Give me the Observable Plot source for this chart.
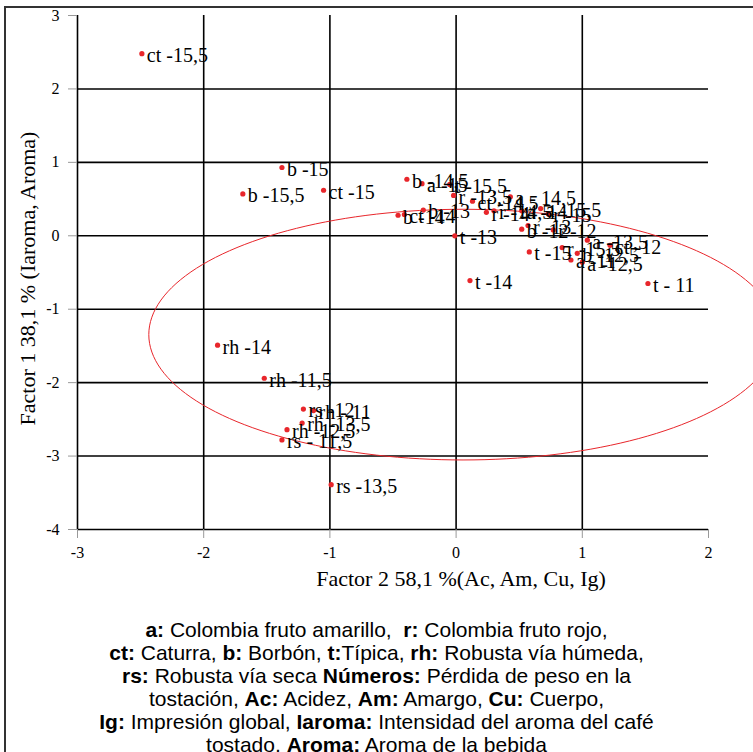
<!DOCTYPE html>
<html>
<head>
<meta charset="utf-8">
<script src="https://cdn.jsdelivr.net/npm/d3@7"></script>
<script src="https://cdn.jsdelivr.net/npm/@observablehq/plot@0.6"></script>
<style>
  html, body { margin: 0; padding: 0; background: #fff; overflow: hidden; width: 753px; height: 752px; }
  #frame { position: absolute; left: 4px; top: 6px; width: 820px; height: 820px; border: 2px solid #333; box-sizing: border-box; }
  #chart { position: absolute; left: 0; top: 0; }
  #caption { position: absolute; left: 0; top: 618px; width: 753px; text-align: center;
    font-family: "Liberation Sans", Arial, sans-serif; font-size: 21px; line-height: 23px; color: #000; }
  #caption b { font-weight: bold; }
</style>
</head>
<body>
<div id="frame"></div>
<div id="chart"></div>
<div id="caption">
  <b>a:</b> Colombia fruto amarillo,&nbsp; <b>r:</b> Colombia fruto rojo,<br>
  <b>ct:</b> Caturra, <b>b:</b> Borbón, <b>t:</b>Típica, <b>rh:</b> Robusta vía húmeda,<br>
  <b>rs:</b> Robusta vía seca <b>Números:</b> Pérdida de peso en la<br>
  tostación, <b>Ac:</b> Acidez, <b>Am:</b> Amargo, <b>Cu:</b> Cuerpo,<br>
  <b>Ig:</b> Impresión global, <b>Iaroma:</b> Intensidad del aroma del café<br>
  tostado, <b>Aroma:</b> Aroma de la bebida
</div>
<script>
// ---- data ----
const labels = [
  "ct -15,5", "b -15", "b -15,5", "ct -15",
  "rh -14", "rh -11,5", "rs -12", "rh - 11", "rh -13,5", "rh -12,5", "rs - 11,5", "rs -13,5",
  "b -14,5", "a -15", "t -15,5", "r -13,5", "ct -14,5", "a - 14,5", "b -14", "ct -14", "b -13",
  "r -14", "r -14,5", "a -14", "b -12", "r -13", "a -15,5", "r -15", "r -12",
  "t -13", "t -14", "t -15", "r -15,5", "a -13,5", "ct -12", "b -12,5", "a -11", "a -12,5", "t - 11"
];
const factor2 = [
  -2.49, -1.38, -1.69, -1.05,
  -1.89, -1.52, -1.21, -1.13, -1.22, -1.34, -1.38, -0.99,
  -0.39, -0.27, -0.05, -0.02, 0.13, 0.43, -0.46, -0.41, -0.26,
  0.24, 0.30, 0.52, 0.52, 0.57, 0.67, 0.73, 0.77,
  -0.01, 0.11, 0.58, 0.84, 1.04, 1.22, 0.96, 0.91, 1.00, 1.52
];
const factor1 = [
  2.48, 0.93, 0.57, 0.62,
  -1.49, -1.94, -2.36, -2.38, -2.55, -2.64, -2.78, -3.39,
  0.77, 0.71, 0.70, 0.55, 0.47, 0.53, 0.28, 0.29, 0.35,
  0.32, 0.34, 0.34, 0.09, 0.14, 0.37, 0.30, 0.08,
  0.00, -0.61, -0.22, -0.16, -0.06, -0.13, -0.24, -0.33, -0.36, -0.65
];
const xTicks = [-3, -2, -1, 0, 1, 2];
const yTicks = [-4, -3, -2, -1, 0, 1, 2, 3];
const xGrid = [-3, -2, -1, 0, 1];
const yGrid = [-4, -3, -2, -1, 0, 1, 2];
const ellipseCenter = [0.055, -1.346];
const ellipseRadii = [2.49, 1.707];
const xTitle = "Factor 2 58,1 %(Ac, Am, Cu, Ig)";
const yTitle = "Factor 1 38,1 % (Iaroma, Aroma)";

const points = labels.map((l, i) => ({label: l, x: factor2[i], y: factor1[i]}));
const ellipse = d3.range(0, 361, 2).map(a => {
  const t = a * Math.PI / 180;
  return {x: ellipseCenter[0] + ellipseRadii[0] * Math.cos(t), y: ellipseCenter[1] + ellipseRadii[1] * Math.sin(t)};
});

const serif = "'Liberation Serif', 'Times New Roman', serif";
const chart = Plot.plot({
  width: 753, height: 600,
  marginLeft: 77, marginRight: 45, marginTop: 15, marginBottom: 71,
  x: {domain: [-3, 2]},
  y: {domain: [-4, 3]},
  style: {fontFamily: serif, fontSize: "16px", background: "transparent", color: "#000"},
  marks: [
    Plot.ruleX(xGrid, {x: d => d, y1: -4, y2: 3, stroke: "#000", strokeWidth: 1.6}),
    Plot.ruleY(yGrid, {y: d => d, x1: -3, x2: 2, stroke: "#000", strokeWidth: 1.6}),
    Plot.axisX(xTicks, {tickSize: 9, stroke: "#999", fill: "#000", tickPadding: 8, fontSize: 16, fontFamily: serif, label: null, tickFormat: d => String(d)}),
    Plot.axisY(yTicks, {tickSize: 9, stroke: "#999", fill: "#000", tickPadding: 9, fontSize: 16, fontFamily: serif, label: null, tickFormat: d => String(d)}),
    Plot.line(ellipse, {x: "x", y: "y", stroke: "#e8262b", strokeWidth: 1, curve: "linear-closed"}),
    Plot.dot(points, {x: "x", y: "y", r: 2.6, fill: "#e8262b", stroke: "none"}),
    Plot.text(points, {x: "x", y: "y", text: "label", textAnchor: "start", lineAnchor: "middle", dx: 5, dy: 2, fontSize: 20, fill: "#000"}),
    Plot.text([xTitle], {frameAnchor: "bottom", text: d => d, textAnchor: "middle", dx: 68, dy: 49, lineAnchor: "middle", fontSize: 22, fill: "#000"}),
    Plot.text([yTitle], {frameAnchor: "left", text: d => d, textAnchor: "middle", dx: -50, dy: 6, rotate: -90, lineAnchor: "middle", fontSize: 22, fill: "#000"})
  ]
});
document.getElementById("chart").appendChild(chart);
</script>
</body>
</html>
